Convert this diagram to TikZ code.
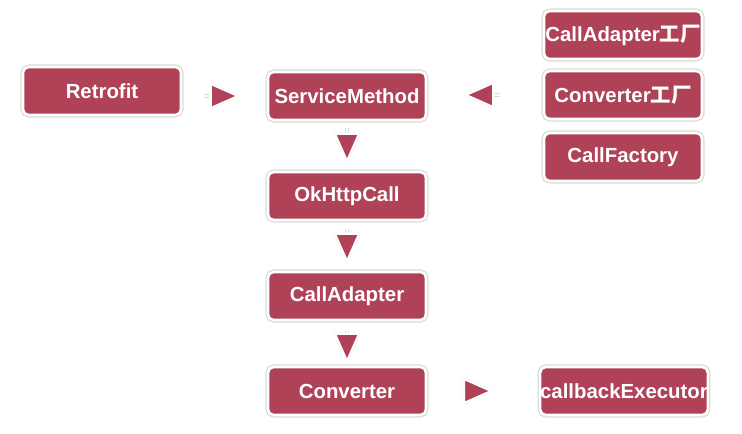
\documentclass[tikz,border=0pt]{standalone}
\usepackage{fontspec}
\setmainfont{Liberation Sans}
\newfontfamily\cjk{Noto Sans CJK SC}
\usetikzlibrary{arrows.meta}
\definecolor{boxred}{RGB}{176,66,88}
\definecolor{glow}{RGB}{218,218,218}
\begin{document}
\begin{tikzpicture}[
  box/.style={draw=white, line width=1.8pt, fill=boxred, rounded corners=4pt,
    text=white, font=\fontsize{14.5}{16}\selectfont\bfseries, inner xsep=0pt,
    minimum width=3.95cm, minimum height=1.2cm,
    preaction={draw=glow, line width=3.6pt}},
  flow/.style={draw=white, line width=1.5pt, line join=miter,
    -{Triangle[length=22pt, width=19pt, fill=boxred]},
    preaction={draw=glow, line width=2.6pt}}]
  \useasboundingbox (0,0) rectangle (18.55,-10.85);
  \node[box] (retrofit) at (2.55,-2.275) {Retrofit};
  \node[box] (service) at (8.675,-2.4) {ServiceMethod};
  \node[box] (okhttp) at (8.675,-4.9) {OkHttpCall};
  \node[box] (adapter) at (8.675,-7.4) {CallAdapter};
  \node[box] (converter) at (8.675,-9.775) {Converter};
  \node[box] (executor) at (15.6,-9.775) {callbackExecutor};
  \node[box] (adapterfac) at (15.575,-0.875) {CallAdapter{\cjk 工厂}};
  \node[box] (converterfac) at (15.575,-2.375) {Converter{\cjk 工厂}};
  \node[box] (callfac) at (15.575,-3.925) {CallFactory};
  \draw[flow, shorten <=0.55cm, shorten >=0.65cm] (retrofit.east |- service.west) -- (service.west);
  \draw[flow, shorten <=1.075cm, shorten >=0.9cm] (converterfac.west) -- (service.east |- converterfac.west);
  \draw[flow, shorten <=0.175cm, shorten >=0.175cm] (service) -- (okhttp);
  \draw[flow, shorten <=0.2cm, shorten >=0.175cm] (okhttp) -- (adapter);
  \draw[flow, shorten <=0.25cm, shorten >=0.05cm] (adapter) -- (converter);
  \draw[flow, shorten <=0.875cm, shorten >=1.125cm] (converter) -- (executor);
\end{tikzpicture}
\end{document}
